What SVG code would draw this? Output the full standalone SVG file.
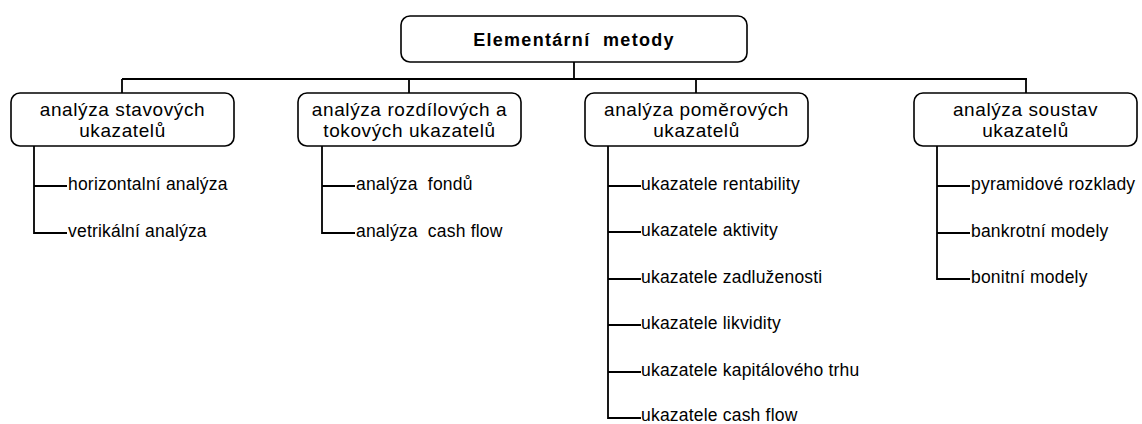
<svg xmlns="http://www.w3.org/2000/svg" width="1142" height="424" viewBox="0 0 1142 424">
<style>
.box{fill:#fff;stroke:#000;stroke-width:1.6}
.ln{fill:none;stroke:#000;stroke-width:1.8}
.t{font-family:"Liberation Sans",Arial,sans-serif;fill:#000}
.title{font-size:18px;font-weight:bold;letter-spacing:1.3px;white-space:pre}
.node{font-size:19px;letter-spacing:0.6px;text-anchor:middle;white-space:pre}
.leaf{font-size:17.5px;letter-spacing:0.2px;white-space:pre}
</style>
<rect width="1142" height="424" fill="#fff"/>
<g id="connectors">
<path class="ln" d="M574 62V79M122 79H1027M122 79V93M409 79V93M696 79V93M1026 79V93"/>
<path class="ln" d="M34 146V233H67M34 186H67"/>
<path class="ln" d="M322 146V233H355M322 186H355"/>
<path class="ln" d="M608 146V418H641M608 186H641M608 232H641M608 279H641M608 325H641M608 372H641"/>
<path class="ln" d="M937 146V279H970M937 186H970M937 233H970"/>
</g>
<g id="root">
<rect class="box" x="401" y="16" width="346" height="46" rx="9"/>
<text class="t title" x="574" y="46" text-anchor="middle">Elementární  metody</text>
</g>
<g id="n1">
<rect class="box" x="11" y="93" width="223" height="53" rx="9"/>
<text class="t node" x="122.5" y="116">analýza stavových</text>
<text class="t node" x="122.5" y="137">ukazatelů</text>
</g>
<g id="n2">
<rect class="box" x="298" y="93" width="223" height="53" rx="9"/>
<text class="t node" x="409.5" y="116">analýza rozdílových a</text>
<text class="t node" x="409.5" y="137">tokových ukazatelů</text>
</g>
<g id="n3">
<rect class="box" x="585" y="93" width="223" height="53" rx="9"/>
<text class="t node" x="696.5" y="116">analýza poměrových</text>
<text class="t node" x="696.5" y="137">ukazatelů</text>
</g>
<g id="n4">
<rect class="box" x="914" y="93" width="223" height="53" rx="9"/>
<text class="t node" x="1025.5" y="116">analýza soustav</text>
<text class="t node" x="1025.5" y="137">ukazatelů</text>
</g>
<g id="l1a"><text class="t leaf" x="68" y="190">horizontalní analýza</text></g>
<g id="l1b"><text class="t leaf" x="68" y="237">vetrikální analýza</text></g>
<g id="l2a"><text class="t leaf" x="356" y="190">analýza  fondů</text></g>
<g id="l2b"><text class="t leaf" x="356" y="237">analýza  cash flow</text></g>
<g id="l3a"><text class="t leaf" x="641" y="190">ukazatele rentability</text></g>
<g id="l3b"><text class="t leaf" x="641" y="236">ukazatele aktivity</text></g>
<g id="l3c"><text class="t leaf" x="641" y="283">ukazatele zadluženosti</text></g>
<g id="l3d"><text class="t leaf" x="641" y="329">ukazatele likvidity</text></g>
<g id="l3e"><text class="t leaf" x="641" y="376">ukazatele kapitálového trhu</text></g>
<g id="l3f"><text class="t leaf" x="641" y="421">ukazatele cash flow</text></g>
<g id="l4a"><text class="t leaf" x="971" y="190">pyramidové rozklady</text></g>
<g id="l4b"><text class="t leaf" x="971" y="237">bankrotní modely</text></g>
<g id="l4c"><text class="t leaf" x="971" y="283">bonitní modely</text></g>
</svg>
